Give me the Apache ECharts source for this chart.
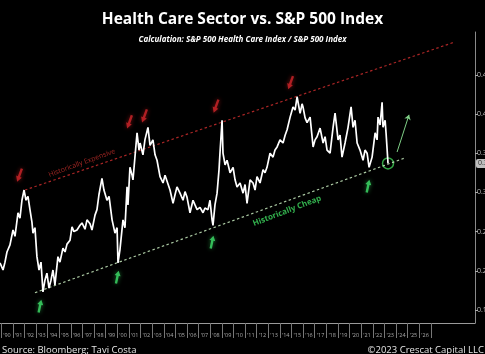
<!DOCTYPE html>
<html><head><meta charset="utf-8">
<script src="https://cdn.jsdelivr.net/npm/echarts@6/dist/echarts.min.js"></script>
<style>html,body{margin:0;padding:0;background:#000;}#c{width:485px;height:354px;}</style>
</head><body><div id="c"></div>
<script>
// ratio series (year, value)
const years = [1989.90,1990.16,1990.33,1990.50,1990.76,1991.02,1991.19,1991.45,1991.62,1991.79,1991.97,1992.14,1992.31,1992.48,1992.65,1992.74,1992.91,1993.08,1993.26,1993.43,1993.60,1993.77,1993.94,1994.12,1994.29,1994.46,1994.63,1994.89,1995.06,1995.32,1995.50,1995.67,1995.93,1996.10,1996.27,1996.53,1996.79,1996.96,1997.22,1997.39,1997.65,1997.82,1998.08,1998.25,1998.42,1998.68,1998.85,1999.11,1999.29,1999.55,1999.80,1999.98,2000.06,2000.23,2000.49,2000.66,2000.84,2000.92,2001.09,2001.27,2001.35,2001.70,2001.87,2001.96,2002.21,2002.38,2002.64,2002.82,2003.07,2003.25,2003.42,2003.68,2003.94,2004.11,2004.28,2004.54,2004.80,2004.97,2005.14,2005.40,2005.66,2005.83,2006.00,2006.26,2006.52,2006.69,2006.87,2007.12,2007.38,2007.55,2007.81,2007.98,2008.16,2008.24,2008.41,2008.59,2008.76,2008.84,2009.02,2009.10,2009.28,2009.45,2009.71,2009.97,2010.14,2010.31,2010.57,2010.83,2011.00,2011.17,2011.43,2011.69,2011.86,2012.03,2012.29,2012.55,2012.72,2012.89,2013.15,2013.41,2013.58,2013.76,2014.01,2014.27,2014.45,2014.62,2014.88,2015.13,2015.31,2015.48,2015.65,2015.74,2015.91,2015.99,2016.17,2016.34,2016.60,2016.86,2017.03,2017.20,2017.46,2017.72,2017.89,2018.06,2018.32,2018.58,2018.75,2019.01,2019.18,2019.35,2019.61,2019.87,2020.13,2020.30,2020.47,2020.65,2020.90,2021.16,2021.33,2021.51,2021.68,2021.94,2022.20,2022.37,2022.45,2022.63,2022.80,2022.88,2023.06,2023.14,2023.31];
const ratio = [0.210,0.201,0.211,0.224,0.233,0.252,0.244,0.274,0.267,0.290,0.303,0.290,0.295,0.278,0.262,0.248,0.255,0.218,0.201,0.211,0.173,0.188,0.197,0.178,0.188,0.201,0.182,0.218,0.211,0.229,0.224,0.234,0.239,0.256,0.250,0.252,0.258,0.261,0.253,0.265,0.260,0.252,0.271,0.278,0.297,0.318,0.303,0.290,0.295,0.265,0.248,0.255,0.210,0.227,0.265,0.255,0.307,0.284,0.332,0.322,0.316,0.376,0.354,0.363,0.348,0.367,0.383,0.360,0.367,0.348,0.341,0.320,0.312,0.322,0.320,0.303,0.286,0.297,0.307,0.299,0.290,0.301,0.294,0.274,0.290,0.284,0.278,0.281,0.274,0.280,0.278,0.290,0.265,0.258,0.284,0.299,0.329,0.350,0.392,0.350,0.335,0.341,0.325,0.332,0.316,0.307,0.312,0.299,0.310,0.286,0.316,0.312,0.303,0.320,0.312,0.329,0.325,0.332,0.350,0.345,0.354,0.358,0.367,0.363,0.373,0.380,0.396,0.409,0.405,0.422,0.408,0.401,0.413,0.409,0.395,0.389,0.396,0.358,0.367,0.371,0.382,0.363,0.371,0.354,0.350,0.383,0.401,0.367,0.373,0.345,0.363,0.383,0.409,0.383,0.392,0.363,0.354,0.341,0.354,0.350,0.332,0.345,0.376,0.367,0.396,0.386,0.415,0.383,0.392,0.376,0.337];
const currentLabel = '0.34';
// trend channel endpoints
const expensiveLine = [[1992.05,0.303],[2029.09,0.492]];
const cheapLine = [[1992.91,0.172],[2024.78,0.344]];
const projection = [[2024.09,0.3515],[2025.12,0.399]];
const redArrows = [[1991.58,0.322],[2001.05,0.390],[2002.34,0.3975],[2008.50,0.410],[2014.92,0.440]];
const greenArrows = [[1993.34,0.155],[2000.0,0.192],[2008.16,0.2367],[2021.59,0.308]];
const expensiveText = [[1996.95,0.3375]];
const cheapText = [[2014.61,0.2763]];
const yTicks = [0.15,0.20,0.25,0.30,0.35,0.40,0.45];
const xTickYears = [];
for (let y = 1990; y <= 2027; y++) xTickYears.push(y);
const xLabelYears = [];
for (let y = 1990; y <= 2026; y++) xLabelYears.push(y + 0.5);

const arrowPath = 'path://M5,0 L10,7 L7,7 L7,18 L3,18 L3,7 L0,7 Z';
const chart = echarts.init(document.getElementById('c'));
chart.setOption({
  backgroundColor: '#000',
  animation: false,
  title: [
    {text: 'Health Care Sector vs. S&P 500 Index', left: 'center', top: 7,
     textStyle: {color: '#fff', fontSize: 15.5, fontWeight: 'bold', fontFamily: 'Open Sans'}},
    {text: 'Calculation: S&P 500 Health Care Index / S&P 500 Index', left: 'center', top: 31,
     textStyle: {color: '#fff', fontSize: 8, fontWeight: 'bold', fontStyle: 'italic', fontFamily: 'Open Sans'}},
    {text: 'Source: Bloomberg; Tavi Costa', left: -3, top: 340,
     textStyle: {color: '#e6e6e6', fontSize: 9.5, fontWeight: 'normal', fontFamily: 'Open Sans'}},
    {text: '\u00A92023 Crescat Capital LLC', right: -4, top: 340,
     textStyle: {color: '#e6e6e6', fontSize: 9.5, fontWeight: 'normal', fontFamily: 'Open Sans'}}
  ],
  grid: {left: 0, right: 10, top: 32, bottom: 31, containLabel: false, outerBoundsMode: 'none'},
  xAxis: {
    type: 'value', min: 1989.9, max: 2030.8,
    axisLine: {show: true, lineStyle: {color: '#9a9a9a', width: 1}},
    axisTick: {show: true, customValues: xTickYears, length: 15, lineStyle: {color: '#777'}},
    axisLabel: {show: true, customValues: xLabelYears, margin: 9, fontSize: 5.5, color: '#aaa',
      fontFamily: 'Open Sans', hideOverlap: false,
      formatter: v => "'" + String(Math.floor(v) % 100).padStart(2, '0')},
    splitLine: {show: false}
  },
  yAxis: {
    type: 'value', position: 'right', min: 0.1334, max: 0.5046,
    axisLine: {show: true, lineStyle: {color: '#8a8a8a', width: 1}},
    axisTick: {show: true, customValues: yTicks, length: 3, lineStyle: {color: '#aaa'}},
    axisLabel: {show: true, customValues: yTicks, margin: 2, fontSize: 7, color: '#bbb',
      fontFamily: 'Open Sans', formatter: v => v.toFixed(2)},
    splitLine: {show: false}
  },
  series: [
    {type: 'line', data: expensiveLine, symbol: 'none', silent: true,
     lineStyle: {color: 'rgba(200,45,45,0.85)', width: 1.2, type: [2.5, 2.5]}},
    {type: 'line', data: cheapLine, symbol: 'none', silent: true,
     lineStyle: {color: 'rgba(200,235,190,0.85)', width: 1.2, type: [2.5, 2.5]}},
    {type: 'line', data: years.map((y, i) => [y, ratio[i]]), symbol: 'none',
     lineStyle: {color: '#fff', width: 1.7}},
    {type: 'lines', coordinateSystem: 'cartesian2d', polyline: false,
     symbol: ['none', 'arrow'], symbolSize: 5,
     lineStyle: {color: '#7fcf86', width: 1, opacity: 1},
     data: [{coords: projection}]},
    {type: 'scatter', data: [[years[years.length-1], ratio[ratio.length-1]]], symbol: 'circle', symbolSize: 11,
     itemStyle: {color: 'rgba(0,0,0,0)', borderColor: '#3fcf55', borderWidth: 1.5}},
    {type: 'scatter', data: redArrows, symbol: arrowPath, symbolSize: [6, 14], symbolRotate: 160,
     itemStyle: {color: '#d0262a', shadowBlur: 4, shadowColor: 'rgba(255,40,40,0.6)'}},
    {type: 'scatter', data: greenArrows, symbol: arrowPath, symbolSize: [6, 13], symbolRotate: -12,
     itemStyle: {color: '#3fe06a', shadowBlur: 4, shadowColor: 'rgba(60,230,100,0.6)'}},
    {type: 'scatter', data: expensiveText, symbolSize: 0,
     label: {show: true, position: 'inside', rotate: 20, formatter: 'Historically Expensive',
       color: '#c9302c', fontSize: 7, fontFamily: 'Open Sans'}},
    {type: 'scatter', data: cheapText, symbolSize: 0,
     label: {show: true, position: 'inside', rotate: 21, formatter: 'Historically Cheap',
       color: '#3fdc60', fontSize: 8, fontWeight: 'bold', fontFamily: 'Open Sans'}},
    {type: 'scatter', data: [[2030.8, ratio[ratio.length-1]]], symbolSize: 0, clip: false,
     label: {show: true, position: 'right', distance: 1, formatter: currentLabel,
       color: '#000', backgroundColor: '#eee', borderRadius: 2, padding: [1, 2],
       fontSize: 7, fontFamily: 'Open Sans'}}
  ]
});
</script></body></html>
